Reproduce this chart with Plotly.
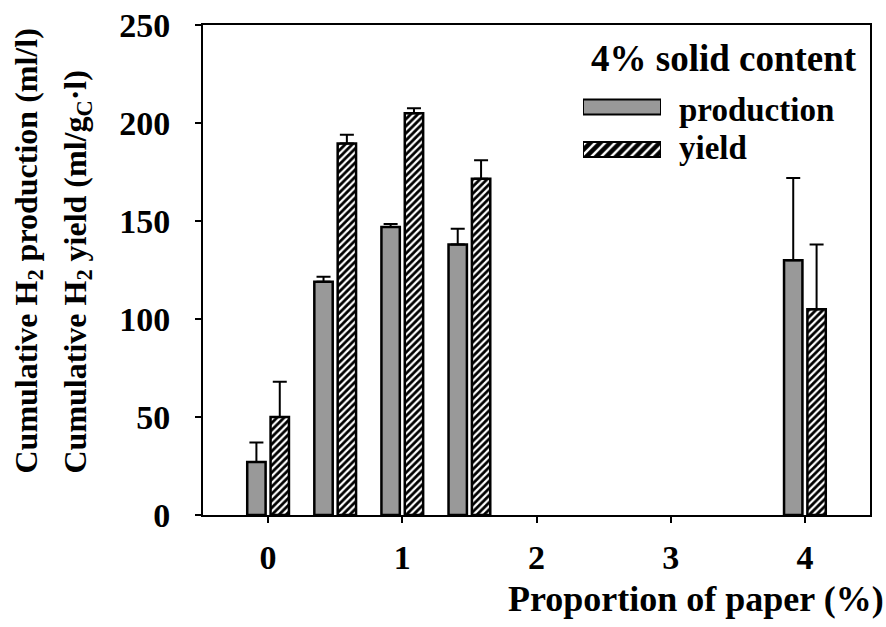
import plotly.graph_objects as go

# ---- data ----
paper_pct = [0, 0.5, 1, 1.5, 4]
production = [27, 119, 147, 138, 130]
production_err = [10, 2.5, 1.5, 8, 42]
yield_vals = [50, 189.5, 205, 171.5, 105]
yield_err = [18, 4.5, 2.5, 9.5, 33]
x_ticks = [0, 1, 2, 3, 4]
y_ticks = [0, 50, 100, 150, 200, 250]
legend_title = "4% solid content"
series_names = ["production", "yield"]

FONT = "Liberation Serif"
BW = 0.137
GRAY = "#999999"

W, H = 886, 627
ML, MR, MT, MB = 203, 16, 25, 112
PW, PH = W - ML - MR, H - MT - MB


def px_x(p):
    return (p - ML) / PW


def px_y(p):
    return (H - MB - p) / PH


fig = go.Figure()

fig.add_trace(go.Bar(
    x=paper_pct, y=production, width=BW, offset=-0.087 - BW / 2,
    marker=dict(color=GRAY, line=dict(color="black", width=2.5)),
    error_y=dict(type="data", array=production_err, symmetric=False,
                 arrayminus=[0] * len(production_err),
                 color="black", thickness=2, width=7),
    showlegend=False, name=series_names[0]))

fig.add_trace(go.Bar(
    x=paper_pct, y=yield_vals, width=BW, offset=0.087 - BW / 2,
    marker=dict(color="white", line=dict(color="black", width=2.5),
                pattern=dict(shape="/", fgcolor="black", bgcolor="white",
                             size=5, solidity=0.55)),
    error_y=dict(type="data", array=yield_err, symmetric=False,
                 arrayminus=[0] * len(yield_err),
                 color="black", thickness=2, width=7),
    showlegend=False, name=series_names[1]))

# legend swatches on an auxiliary axis
fig.add_trace(go.Bar(
    x=[1], y=[1], base=0, orientation="h", width=0.35, xaxis="x2", yaxis="y2",
    marker=dict(color=GRAY, line=dict(color="black", width=2)),
    showlegend=False, hoverinfo="skip"))
fig.add_trace(go.Bar(
    x=[1], y=[0], base=0, orientation="h", width=0.35, xaxis="x2", yaxis="y2",
    marker=dict(color="black", line=dict(color="black", width=2),
                pattern=dict(shape="/", fgcolor="white", bgcolor="black",
                             size=7, solidity=0.35)),
    showlegend=False, hoverinfo="skip"))

tickfont = dict(family=FONT, size=34, color="black", weight="bold")

fig.update_layout(
    template="none",
    width=W, height=H,
    margin=dict(l=ML, r=MR, t=MT, b=MB, autoexpand=False),
    paper_bgcolor="white", plot_bgcolor="white",
    barmode="overlay",
    xaxis=dict(range=[-0.485, 4.485], tickmode="array", tickvals=x_ticks,
               ticks="outside", ticklen=6, tickwidth=2, tickcolor="black",
               showline=True, linecolor="black", linewidth=2, mirror=True,
               showgrid=False, zeroline=False, tickfont=tickfont,
               ticklabelstandoff=5, automargin=False),
    yaxis=dict(range=[0, 250], tickmode="array", tickvals=y_ticks,
               ticks="outside", ticklen=6, tickwidth=2, tickcolor="black",
               showline=True, linecolor="black", linewidth=2, mirror=True,
               showgrid=False, zeroline=False, tickfont=tickfont,
               ticklabelstandoff=18, automargin=False),
    xaxis2=dict(domain=[px_x(583), px_x(661)], range=[0, 1], anchor="y2",
                visible=False, fixedrange=True, automargin=False),
    yaxis2=dict(domain=[px_y(170.75), px_y(85.75)], range=[-0.5, 1.5],
                anchor="x2", visible=False, fixedrange=True, automargin=False),
)

ann_font = dict(family=FONT, size=33, color="black", weight="bold")

fig.add_annotation(text=legend_title, xref="paper", yref="paper",
                   x=px_x(859), y=px_y(58), xanchor="right", yanchor="middle",
                   showarrow=False, font=dict(family=FONT, size=37, color="black", weight="bold"))
fig.add_annotation(text=series_names[0], xref="paper", yref="paper",
                   x=px_x(677), y=px_y(110), xanchor="left", yanchor="middle",
                   showarrow=False, font=ann_font)
fig.add_annotation(text=series_names[1], xref="paper", yref="paper",
                   x=px_x(677), y=px_y(148), xanchor="left", yanchor="middle",
                   showarrow=False, font=ann_font)

fig.add_annotation(text="Proportion of paper (%)", xref="paper", yref="paper",
                   x=px_x(886), y=px_y(599), xanchor="right", yanchor="middle",
                   showarrow=False, font=dict(family=FONT, size=36, color="black", weight="bold"))

yfont = dict(family=FONT, size=32, color="black", weight="bold")
fig.add_annotation(text="Cumulative H<sub>2</sub> production (ml/l)", xref="paper", yref="paper",
                   x=px_x(28), y=px_y(476), xanchor="center", yanchor="bottom",
                   textangle=-90, showarrow=False, font=yfont)
fig.add_annotation(text="Cumulative H<sub>2</sub> yield (ml/g<sub>C</sub>·l)", xref="paper", yref="paper",
                   x=px_x(77), y=px_y(476), xanchor="center", yanchor="bottom",
                   textangle=-90, showarrow=False, font=yfont)

fig.write_html("out.html",
               config={"displayModeBar": False},
               post_script="document.body.style.margin='0px';document.body.style.overflow='hidden';")
